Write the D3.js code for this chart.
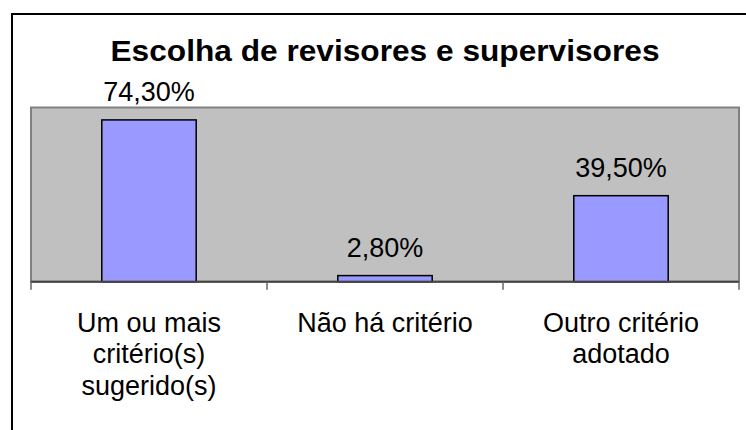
<!DOCTYPE html>
<html>
<head>
<meta charset="utf-8">
<script src="https://cdn.jsdelivr.net/npm/d3@7"></script>
<style>
  body { margin: 0; background: #fff; }
  text { font-family: Arial, "Liberation Sans", sans-serif; fill: #000; }
</style>
</head>
<body>
<svg id="chart" width="746" height="430"></svg>
<script>
var categories = ["Um ou mais critério(s) sugerido(s)", "Não há critério", "Outro critério adotado"];
var labelLines = [["Um ou mais", "critério(s)", "sugerido(s)"], ["Não há critério"], ["Outro critério", "adotado"]];
var values = [74.3, 2.8, 39.5];
var valueLabels = ["74,30%", "2,80%", "39,50%"];
var title = "Escolha de revisores e supervisores";

var svg = d3.select("#chart"),
    plot = {left: 31, right: 739, top: 107.5, bottom: 281.7};

// chart frame (runs off the right and bottom edges)
svg.append("rect")
    .attr("x", 12).attr("y", 14)
    .attr("width", 760).attr("height", 440)
    .attr("fill", "#fff")
    .attr("stroke", "#000")
    .attr("stroke-width", 2);

var x = d3.scaleBand()
    .domain(categories)
    .range([plot.left, plot.right])
    .paddingInner(0.6)
    .paddingOuter(0.3);

var y = d3.scaleLinear()
    .domain([0, 80])
    .range([plot.bottom, plot.top]);

svg.append("text")
    .attr("x", (plot.left + plot.right) / 2)
    .attr("y", 61)
    .attr("text-anchor", "middle")
    .style("font-size", "30px")
    .style("font-weight", "bold")
    .attr("textLength", 549)
    .attr("lengthAdjust", "spacingAndGlyphs")
    .text(title);

// gray plot area
svg.append("rect")
    .attr("x", plot.left)
    .attr("y", y(80))
    .attr("width", plot.right - plot.left)
    .attr("height", y(0) - y(80))
    .attr("fill", "#c0c0c0")
    .attr("stroke", "#808080")
    .attr("stroke-width", 2);

svg.selectAll(".bar")
    .data(values)
    .enter().append("rect")
    .attr("class", "bar")
    .attr("x", function(d, i) { return x(categories[i]); })
    .attr("y", function(d) { return y(d); })
    .attr("width", x.bandwidth())
    .attr("height", function(d) { return y(0) - y(d); })
    .attr("fill", "#9999ff")
    .attr("stroke", "#000")
    .attr("stroke-width", 1.5);

svg.selectAll(".value")
    .data(values)
    .enter().append("text")
    .attr("class", "value")
    .attr("x", function(d, i) { return x(categories[i]) + x.bandwidth() / 2; })
    .attr("y", function(d) { return y(d) - 19; })
    .attr("text-anchor", "middle")
    .style("font-size", "27px")
    .text(function(d, i) { return valueLabels[i]; });

// x axis: baseline plus ticks between categories
var axis = svg.append("g").attr("class", "axis axis--x");

axis.append("line")
    .attr("x1", plot.left).attr("x2", plot.right)
    .attr("y1", y(0)).attr("y2", y(0))
    .attr("stroke", "#444")
    .attr("stroke-width", 2);

var bounds = categories.map(function(c) { return x(c) - x.step() * 0.3; });
bounds.push(plot.right);

axis.selectAll(".tick")
    .data(bounds)
    .enter().append("line")
    .attr("class", "tick")
    .attr("x1", function(d) { return d; }).attr("x2", function(d) { return d; })
    .attr("y1", y(0)).attr("y2", y(0) + 8)
    .attr("stroke", "#666")
    .attr("stroke-width", 1.5);

var labels = axis.selectAll(".cat")
    .data(labelLines)
    .enter().append("text")
    .attr("class", "cat")
    .attr("text-anchor", "middle")
    .style("font-size", "27px");

labels.selectAll("tspan")
    .data(function(d, i) { return d.map(function(t) { return {t: t, i: i}; }); })
    .enter().append("tspan")
    .attr("x", function(d) { return x(categories[d.i]) + x.bandwidth() / 2; })
    .attr("y", function(d, j) { return y(0) + 50 + j * 31.6; })
    .text(function(d) { return d.t; });
</script>
</body>
</html>
